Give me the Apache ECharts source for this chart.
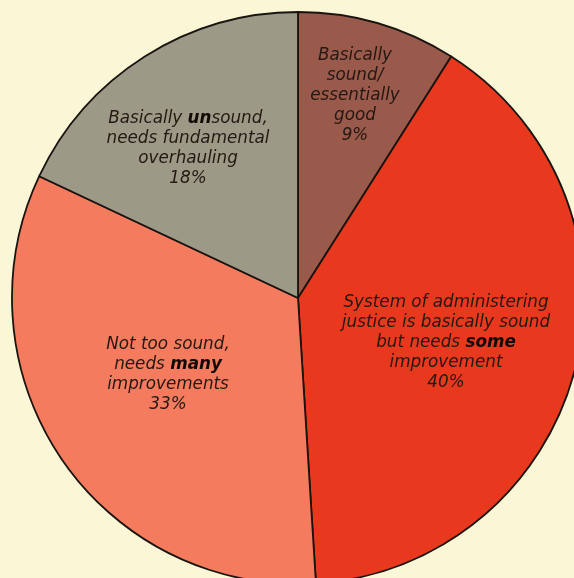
<!DOCTYPE html>
<html><head><meta charset="utf-8">
<script src="https://cdn.jsdelivr.net/npm/echarts@6/dist/echarts.min.js"></script>
<style>html,body{margin:0;padding:0;background:#fbf7d6;}#c{width:574px;height:578px;}</style>
</head><body><div id="c"></div>
<script>
// Data
const categories = [
  "Basically sound/ essentially good",
  "System of administering justice is basically sound but needs some improvement",
  "Not too sound, needs many improvements",
  "Basically unsound, needs fundamental overhauling"
];
const values = [9, 40, 33, 18];
// Label text lines (rich markup for bold words)
const labelLines = [
  ["Basically", "sound/", "essentially", "good", "9%"],
  ["System of administering", "justice is basically sound", "but needs {b|some}", "improvement", "40%"],
  ["Not too sound,", "needs {b|many}", "improvements", "33%"],
  ["Basically {b|un}sound,", "needs fundamental", "overhauling", "18%"]
];
const colors = ["#995a4c", "#e8391f", "#f47b5d", "#9c9987"];
// label anchor positions (layout only)
const labelPos = [[355, 96], [446, 343], [168, 375], [188, 149]];

const FONT = 'DejaVu Sans, Verdana, sans-serif';
const chart = echarts.init(document.getElementById('c'));
chart.setOption({
  backgroundColor: '#fbf7d6',
  animation: false,
  series: [{
    type: 'pie',
    center: [298, 298],
    radius: 286,
    startAngle: 90,
    clockwise: true,
    data: categories.map((n, i) => ({
      name: n, value: values[i],
      itemStyle: { color: colors[i] },
      label: { formatter: labelLines[i].join('\n') }
    })),
    itemStyle: { borderColor: '#1a1410', borderWidth: 1.8 },
    label: {
      show: true,
      position: 'inside',
      color: '#231812',
      fontFamily: FONT,
      fontStyle: 'italic',
      fontSize: 16.8,
      lineHeight: 20,
      align: 'center',
      rich: { b: { fontWeight: 'bold', fontStyle: 'italic', fontSize: 16.8, color: '#120a06', fontFamily: FONT } }
    },
    labelLine: { show: false },
    labelLayout: function (p) {
      const pos = labelPos[p.dataIndex];
      return { x: pos[0], y: pos[1], align: 'center', verticalAlign: 'middle' };
    },
    emphasis: { disabled: true }
  }]
});
</script></body></html>
